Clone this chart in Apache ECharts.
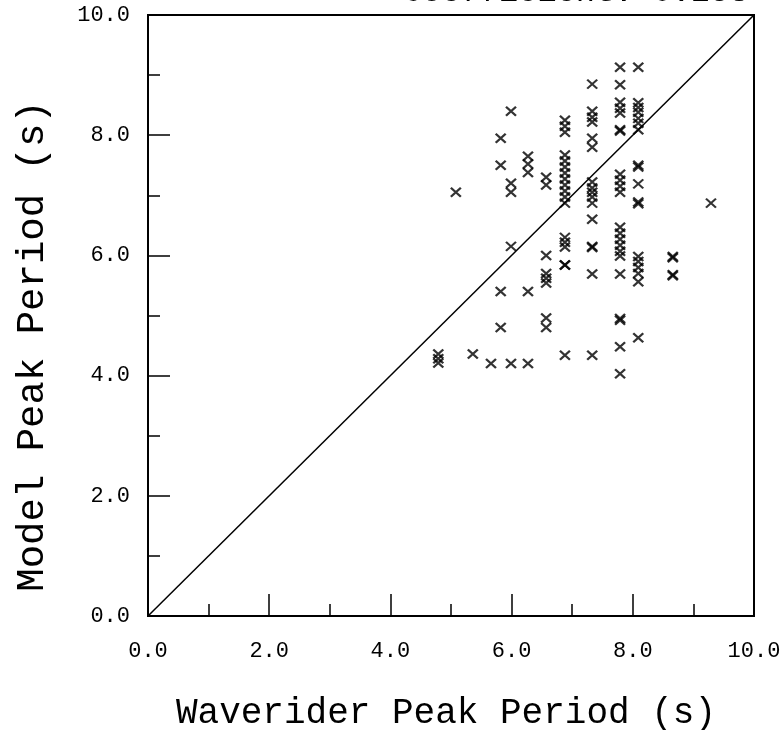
<!DOCTYPE html>
<html>
<head>
<meta charset="utf-8">
<script src="https://cdn.jsdelivr.net/npm/echarts@6/dist/echarts.min.js"></script>
<style>
  html, body { margin: 0; padding: 0; background: #fff; }
  #chart { width: 784px; height: 730px; }
</style>
</head>
<body>
<div id="chart"></div>
<script>
// Waverider peak periods come in discrete frequency bins; each bin has its list of model peak periods.
const waveriderBins = [4.79, 5.08, 5.36, 5.66, 5.82, 5.99, 6.27, 6.57, 6.88, 7.33, 7.79, 8.09, 8.66, 9.29];
const modelPeriodsByBin = [
  [4.36, 4.28, 4.21],
  [7.05],
  [4.36],
  [4.2],
  [7.95, 7.5, 5.4, 4.8],
  [8.4, 7.2, 7.05, 6.15, 4.2],
  [7.65, 7.52, 7.38, 5.4, 4.2],
  [7.3, 7.17, 6.0, 5.7, 5.62, 5.54, 4.96, 4.8],
  [8.25, 8.15, 8.05, 7.67, 7.57, 7.47, 7.37, 7.27, 7.17, 7.07, 6.97, 6.87, 6.3, 6.22, 6.14, 5.84, 5.84, 4.34],
  [8.85, 8.4, 8.3, 8.22, 7.95, 7.8, 7.22, 7.12, 7.05, 6.97, 6.87, 6.6, 6.15, 6.13, 5.69, 4.34],
  [9.13, 8.84, 8.55, 8.45, 8.37, 8.09, 8.07, 7.35, 7.25, 7.15, 7.05, 6.47, 6.37, 6.27, 6.17, 6.07, 5.99, 5.69, 4.95, 4.92, 4.48, 4.03],
  [9.13, 8.54, 8.46, 8.38, 8.28, 8.2, 8.09, 7.5, 7.47, 7.19, 6.89, 6.86, 5.98, 5.9, 5.8, 5.7, 5.56, 4.63],
  [5.98, 5.96, 5.68, 5.66],
  [6.87]
];
const axisMin = 0;
const axisMax = 10;
const labelStep = 2;
const statText = 'Coefficient: 0.258';
const xName = 'Waverider Peak Period (s)';
const yName = 'Model Peak Period (s)';

const points = [];
waveriderBins.forEach((x, i) => {
  modelPeriodsByBin[i].forEach(y => points.push([x, y]));
});

const FONT = '"Liberation Mono", "DejaVu Sans Mono", monospace';
const black = '#000';

function axisCommon() {
  return {
    type: 'value',
    min: axisMin,
    max: axisMax,
    interval: labelStep,
    axisLine: { show: true, lineStyle: { color: black, width: 2 } },
    axisTick: { show: true, inside: true, length: 22, lineStyle: { color: black, width: 1.5 } },
    minorTick: { show: true, splitNumber: 2, length: 12, lineStyle: { color: black, width: 1.5 } },
    splitLine: { show: false },
    minorSplitLine: { show: false },
    axisLabel: {
      color: black,
      fontFamily: FONT,
      fontSize: 22,
      formatter: v => v.toFixed(1)
    }
  };
}

const xAxis = axisCommon();
xAxis.axisLabel.margin = 24;
const yAxis = axisCommon();
yAxis.axisLabel.margin = 18;

const chart = echarts.init(document.getElementById('chart'), null, { renderer: 'canvas' });
chart.setOption({
  animation: false,
  backgroundColor: '#fff',
  grid: {
    left: 148, right: 30, top: 15, bottom: 114,
    show: true, borderColor: black, borderWidth: 2, backgroundColor: 'transparent'
  },
  xAxis: xAxis,
  yAxis: yAxis,
  series: [
    {
      type: 'line',
      data: [[axisMin, axisMin], [axisMax, axisMax]],
      symbol: 'none',
      lineStyle: { color: black, width: 1.5 },
      silent: true,
      z: 1
    },
    {
      type: 'scatter',
      data: points,
      symbol: 'path://M0,0L10,10M10,0L0,10',
      symbolSize: [10, 9],
      itemStyle: { color: 'transparent', borderColor: black, borderWidth: 2.2 },
      z: 2
    }
  ],
  graphic: [
    {
      type: 'text', x: 403, y: -7,
      style: { text: statText, font: '32px ' + FONT, fill: black, textAlign: 'left', textVerticalAlign: 'middle' }
    },
    {
      type: 'text', x: 446, y: 713,
      style: { text: xName, font: '36px ' + FONT, fill: black, textAlign: 'center', textVerticalAlign: 'middle' }
    },
    {
      type: 'text', x: 33, y: 346, rotation: Math.PI / 2,
      style: { text: yName, font: '39px ' + FONT, fill: black, textAlign: 'center', textVerticalAlign: 'middle' }
    }
  ]
});
</script>
</body>
</html>
